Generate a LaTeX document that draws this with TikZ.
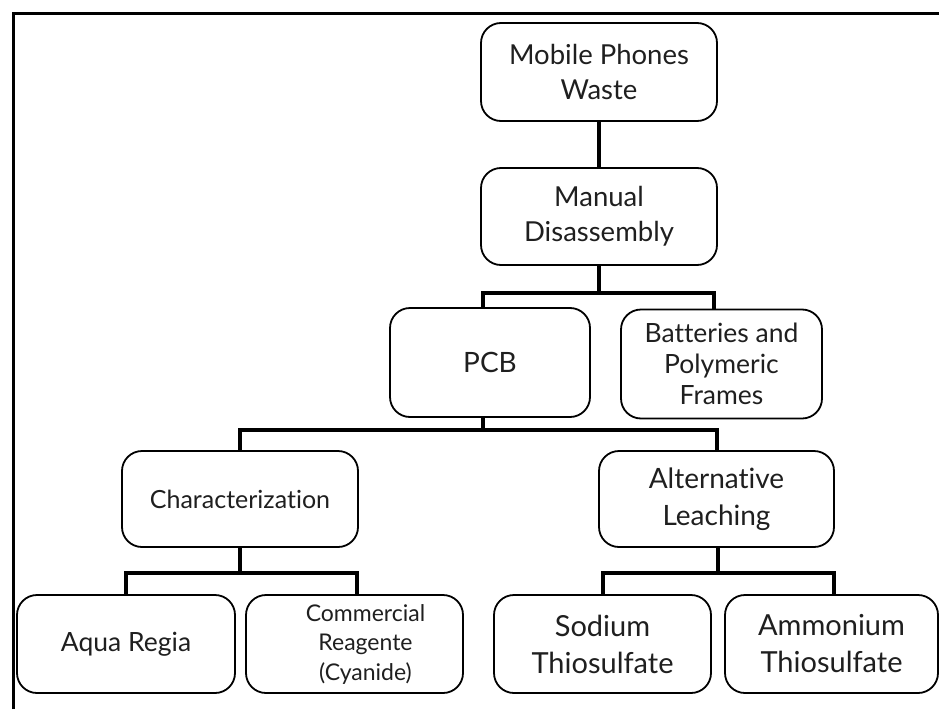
\documentclass[tikz,border=0pt]{standalone}
\usepackage{fontspec}
\setmainfont{Lato}[Ligatures=NoCommon]
\begin{document}
\begin{tikzpicture}[x=1pt,y=-1pt,
  box/.style={draw, line width=1.8pt, rounded corners=20pt, align=center, inner sep=0pt, text=black!88},
  conn/.style={line width=4pt, line join=miter}]
\useasboundingbox (0,0) rectangle (939,709);
% frame
\draw[line width=2.5pt] (13.5,709) -- (13.5,13.5) -- (939,13.5);
% nodes
\node[box, minimum width=236pt, minimum height=98pt, font=\fontsize{27.5}{35}\selectfont] (mpw) at (599,72) {Mobile Phones\\Waste};
\node[box, minimum width=236pt, minimum height=97pt, font=\fontsize{27.5}{35}\selectfont] (md) at (599,216.5) {Manual\\Disassembly};
\node[box, minimum width=200pt, minimum height=109pt, font=\fontsize{28}{35}\selectfont] (pcb) at (490,362.5) {PCB};
\node[box, minimum width=201pt, minimum height=109pt, font=\fontsize{26.5}{31}\selectfont] (bat) at (721.5,364) {Batteries and\\Polymeric\\Frames};
\node[box, minimum width=236pt, minimum height=96pt, font=\fontsize{25}{31}\selectfont] (char) at (240,499) {Characterization};
\node[box, minimum width=235pt, minimum height=96pt, font=\fontsize{28}{37}\selectfont] (alt) at (716.5,499) {Alternative\\Leaching};
\node[box, minimum width=218pt, minimum height=98pt, font=\fontsize{26.5}{37}\selectfont] (aqua) at (126,644) {Aqua Regia};
\node[box, minimum width=217pt, minimum height=98pt, font=\fontsize{23}{29.5}\selectfont] (comm) at (354.5,644) {\hspace*{22pt}Commercial\\\hspace*{22pt}Reagente\\\hspace*{22pt}(Cyanide)};
\node[box, minimum width=217pt, minimum height=98pt, font=\fontsize{29}{37}\selectfont] (sod) at (602.5,644) {Sodium\\Thiosulfate};
\node[box, minimum width=213pt, minimum height=98pt, font=\fontsize{29}{37}\selectfont] (amm) at (831.5,644) {Ammonium\\Thiosulfate};
% connectors
\draw[conn] (mpw.south) -- (md.north);
\draw[conn] (md.south) -- ++(0,27) coordinate (j1);
\draw[conn] ([xshift=-7pt]pcb.north) |- (j1) -| ([xshift=-7.5pt]bat.north);
\draw[conn] ([xshift=-7pt]pcb.south) -- ++(0,12) coordinate (j2);
\draw[conn] (char.north) |- (j2) -| (alt.north);
\draw[conn] (char.south) -- ++(0,25) coordinate (j3);
\draw[conn] (aqua.north) |- (j3) -| ([xshift=2.5pt]comm.north);
\draw[conn] ([xshift=1.5pt]alt.south) -- ++(0,25) coordinate (j4);
\draw[conn] (sod.north) |- (j4) -| ([xshift=2.5pt]amm.north);
\end{tikzpicture}
\end{document}
